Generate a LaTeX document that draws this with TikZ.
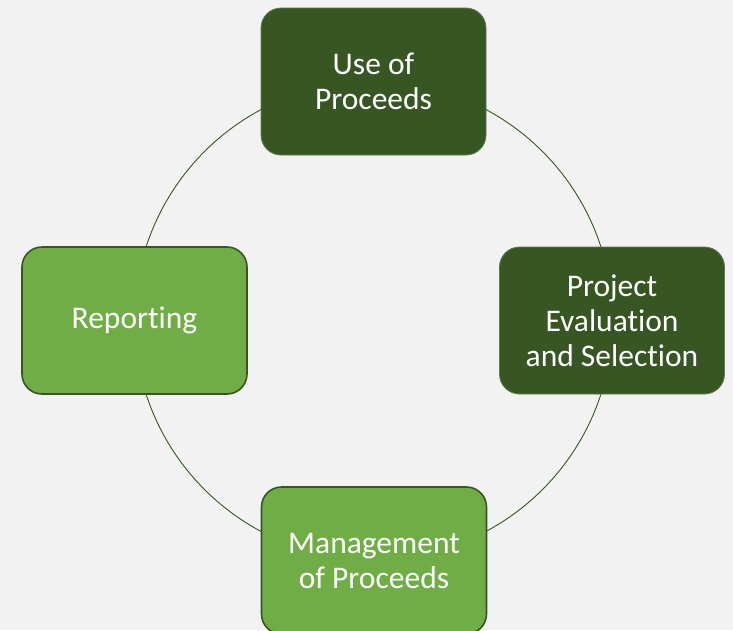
\documentclass[tikz,border=0pt]{standalone}
\usepackage{fontspec}
\setmainfont[Ligatures={NoCommon}]{Carlito}
\definecolor{bg}{HTML}{F2F2F2}
\definecolor{darkg}{HTML}{375623}
\definecolor{lightg}{HTML}{70AD47}
\definecolor{darkedge}{HTML}{5B7B48}
\begin{document}
\begin{tikzpicture}[x=1pt,y=-1pt,
  box/.style={rectangle, rounded corners=20pt, minimum width=225pt, minimum height=147pt,
    text=white, align=center, font=\fontsize{31.5}{35}\selectfont, inner sep=0pt},
  darkbox/.style={box, fill=darkg, draw=darkedge, line width=0.8pt},
  lightbox/.style={box, fill=lightg, draw=darkg, line width=1.6pt},
  ring/.style={draw=darkg, line width=0.9pt}]
\fill[bg] (0,0) rectangle (733,630);
\clip (0,0) rectangle (733,630);
\useasboundingbox (0,0) rectangle (733,630);
\coordinate (c) at (373.5,320.5);
\draw[ring] (c) circle[radius=239pt];
\node[darkbox] (use) at (373.5,81.5) {Use of\\Proceeds};
\node[darkbox] (proj) at (612,320.5) {Project\\Evaluation\\and Selection};
\node[lightbox] (mgmt) at (374,560.5) {Management\\of Proceeds};
\node[lightbox] (rep) at (134.5,320.5) {Reporting};
\end{tikzpicture}
\end{document}
